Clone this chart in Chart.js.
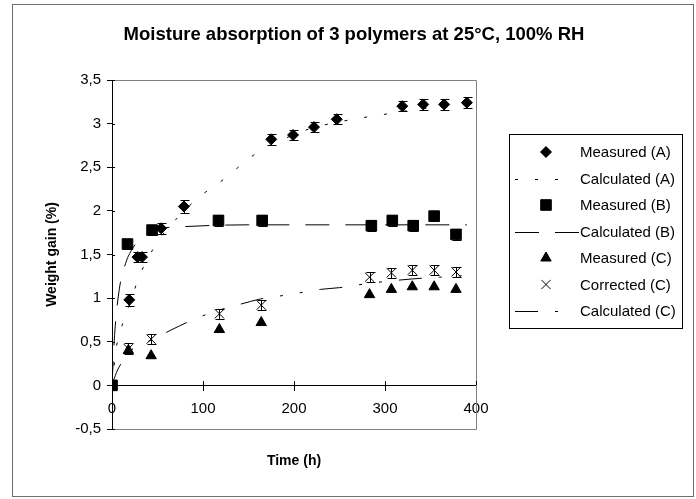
<!DOCTYPE html>
<html>
<head>
<meta charset="utf-8">
<script src="https://cdn.jsdelivr.net/npm/chart.js@4.4.0/dist/chart.umd.min.js"></script>
<style>
  body { margin: 0; background: #fff; }
  #chart { display: block; }
</style>
</head>
<body>
<canvas id="chart" width="696" height="499"></canvas>
<script>
// measured weight gain (%) against time (h)
const timeA = [0, 19, 28, 33, 54, 79, 175, 199, 222, 247, 319, 342, 365, 390];
const measuredA = [0, 0.98, 1.47, 1.47, 1.80, 2.05, 2.82, 2.87, 2.96, 3.05, 3.20, 3.22, 3.22, 3.24];
const errorA = [0, 0.07, 0.06, 0.06, 0.06, 0.07, 0.06, 0.06, 0.06, 0.06, 0.06, 0.06, 0.06, 0.06];

const timeB = [0, 17, 44, 117, 165, 285, 308, 331, 354, 378];
const measuredB = [0, 1.62, 1.78, 1.89, 1.89, 1.83, 1.89, 1.83, 1.94, 1.73];
const errorB = [0, 0.06, 0.06, 0.06, 0.06, 0.06, 0.06, 0.06, 0.06, 0.06];

const timeC = [0, 18, 43, 118, 164, 283, 307, 330, 354, 378];
const measuredC = [0, 0.40, 0.34, 0.64, 0.72, 1.04, 1.10, 1.13, 1.13, 1.10];
const correctedC = [0, 0.42, 0.53, 0.82, 0.92, 1.24, 1.29, 1.32, 1.32, 1.30];
const errorC = [0, 0.06, 0.06, 0.06, 0.06, 0.06, 0.06, 0.06, 0.06, 0.06];

// model curves
const calcTimeA = [0, 5, 10, 20, 30, 45, 55, 70, 97, 115, 132, 148, 166, 190, 220, 250, 270, 290, 313, 340, 370, 390];
const calculatedA = [0, 0.45, 0.65, 0.95, 1.25, 1.56, 1.72, 1.90, 2.17, 2.30, 2.44, 2.58, 2.71, 2.83, 2.95, 3.02, 3.06, 3.09, 3.13, 3.17, 3.20, 3.22];
const calcTimeB = [0, 3, 8, 15, 22, 30, 40, 55, 80, 150, 250, 390];
const calculatedB = [0, 0.60, 1.10, 1.40, 1.56, 1.67, 1.75, 1.80, 1.82, 1.84, 1.84, 1.84];
const calcTimeC = [0, 5, 10, 18, 30, 45, 66, 82, 103, 120, 141, 163, 188, 206, 229, 250, 276, 300, 330, 360, 390];
const calculatedC = [0, 0.15, 0.25, 0.38, 0.45, 0.53, 0.64, 0.72, 0.81, 0.87, 0.93, 0.99, 1.03, 1.06, 1.10, 1.12, 1.16, 1.19, 1.22, 1.24, 1.26];

const xTicks = [0, 100, 200, 300, 400];
const yMin = -0.5, yMax = 3.5, yStep = 0.5;

const toPoints = (xs, ys) => xs.map((x, i) => ({ x: x, y: ys[i] }));

const FONT = "'Liberation Sans', Arial, sans-serif";
Chart.defaults.font.family = FONT;
Chart.defaults.color = '#000';

// vertical error bars with small caps
const errorBars = {
  id: 'errorBars',
  afterDatasetsDraw(chart) {
    const ctx = chart.ctx;
    const yScale = chart.scales.y;
    ctx.save();
    ctx.strokeStyle = '#000';
    ctx.lineWidth = 1;
    chart.data.datasets.forEach((ds, i) => {
      if (!ds.errors) return;
      const meta = chart.getDatasetMeta(i);
      meta.data.forEach((pt, j) => {
        const e = ds.errors[j];
        if (!e) return;
        const v = ds.data[j].y;
        const x = Math.round(pt.x) + 0.5;
        const top = Math.round(yScale.getPixelForValue(v + e)) + 0.5;
        const bot = Math.round(yScale.getPixelForValue(v - e)) + 0.5;
        ctx.beginPath();
        ctx.moveTo(x, top); ctx.lineTo(x, bot);
        ctx.moveTo(x - 4, top); ctx.lineTo(x + 5, top);
        ctx.moveTo(x - 4, bot); ctx.lineTo(x + 5, bot);
        ctx.stroke();
      });
    });
    ctx.restore();
  }
};

// grey frame round the plot, outer border, ticks crossing the axes
const frames = {
  id: 'frames',
  beforeDraw(chart) {
    const ctx = chart.ctx;
    ctx.save();
    ctx.fillStyle = '#fff';
    ctx.fillRect(0, 0, chart.width, chart.height);
    ctx.strokeStyle = '#6e6e6e';
    ctx.lineWidth = 1;
    ctx.strokeRect(12.5, 4.5, 681, 492);
    ctx.restore();
  },
  beforeDatasetsDraw(chart) {
    const { ctx, chartArea: a, scales } = chart;
    ctx.save();
    ctx.strokeStyle = '#808080';
    ctx.lineWidth = 1;
    ctx.beginPath();
    ctx.moveTo(a.left, a.top + 0.5);
    ctx.lineTo(a.right + 0.5, a.top + 0.5);
    ctx.lineTo(a.right + 0.5, a.bottom + 0.5);
    ctx.lineTo(a.left, a.bottom + 0.5);
    ctx.stroke();
    ctx.strokeStyle = '#000';
    ctx.beginPath();
    const y0 = Math.round(scales.y.getPixelForValue(0));
    scales.x.ticks.forEach(t => {
      const x = Math.round(scales.x.getPixelForValue(t.value)) + 0.5;
      ctx.moveTo(x, y0 - 4);
      ctx.lineTo(x, y0);
    });
    scales.y.ticks.forEach(t => {
      const y = Math.round(scales.y.getPixelForValue(t.value)) + 0.5;
      ctx.moveTo(a.left, y);
      ctx.lineTo(a.left + 3, y);
    });
    ctx.stroke();
    ctx.restore();
  }
};

// boxed legend on the right
const boxLegend = {
  id: 'boxLegend',
  afterDraw(chart) {
    const ctx = chart.ctx;
    const box = { left: 509.5, top: 134.5, right: 682.5, bottom: 328.5 };
    const firstY = 152, step = 26.5, markX = 546, lineX1 = 515, textX = 580;
    ctx.save();
    ctx.strokeStyle = '#000';
    ctx.lineWidth = 1;
    ctx.strokeRect(box.left, box.top, box.right - box.left, box.bottom - box.top);
    ctx.font = '15px ' + FONT;
    ctx.textBaseline = 'middle';
    ctx.textAlign = 'left';
    chart.data.datasets.forEach((ds, i) => {
      const y = firstY + i * step;
      ctx.strokeStyle = '#000';
      ctx.fillStyle = '#000';
      if (ds.showLine) {
        ctx.save();
        ctx.setLineDash(ds.borderDash || []);
        ctx.beginPath();
        ctx.moveTo(lineX1, Math.round(y) + 0.5);
        ctx.lineTo(ds.legendEnd, Math.round(y) + 0.5);
        ctx.stroke();
        ctx.restore();
      } else {
        Chart.helpers.drawPoint(ctx, {
          pointStyle: ds.pointStyle,
          radius: ds.pointRadius,
          borderWidth: 1,
          rotation: 0
        }, markX, y);
      }
      ctx.fillStyle = '#000';
      ctx.fillText(ds.label, textX, y + 1);
    });
    ctx.restore();
  }
};

const marker = (label, xs, ys, style, radius, errors) => ({
  label: label,
  data: toPoints(xs, ys),
  pointStyle: style,
  pointRadius: radius,
  pointHoverRadius: radius,
  pointBorderWidth: 1,
  backgroundColor: '#000',
  borderColor: '#000',
  errors: errors,
  showLine: false
});

const curve = (label, xs, ys, dash, legendEnd) => ({
  label: label,
  data: toPoints(xs, ys),
  showLine: true,
  pointRadius: 0,
  borderColor: '#000',
  borderWidth: 1,
  borderDash: dash,
  cubicInterpolationMode: 'monotone',
  legendEnd: legendEnd
});

new Chart(document.getElementById('chart'), {
  type: 'scatter',
  data: {
    datasets: [
      marker('Measured (A)', timeA, measuredA, 'rectRot', 5.5, errorA),
      curve('Calculated (A)', calcTimeA, calculatedA, [3, 17], 560),
      marker('Measured (B)', timeB, measuredB, 'rect', 7.5, errorB),
      curve('Calculated (B)', calcTimeB, calculatedB, [24, 16], 580),
      marker('Measured (C)', timeC, measuredC, 'triangle', 6, null),
      marker('Corrected (C)', timeC, correctedC, 'crossRot', 6.5, errorC),
      curve('Calculated (C)', calcTimeC, calculatedC, [23, 17, 3, 17, 3, 17], 562)
    ]
  },
  plugins: [frames, errorBars, boxLegend],
  options: {
    responsive: false,
    animation: false,
    devicePixelRatio: 1,
    layout: { padding: { left: 12, right: 0, top: 0, bottom: 10 } },
    plugins: {
      legend: { display: false },
      tooltip: { enabled: false },
      title: {
        display: true,
        text: 'Moisture absorption of 3 polymers at 25°C, 100% RH',
        font: { size: 18.5, weight: 'bold' },
        color: '#000',
        padding: { top: 23.9, bottom: 33.9 }
      }
    },
    scales: {
      x: {
        type: 'linear',
        position: { y: 0 },
        min: xTicks[0],
        max: xTicks[xTicks.length - 1],
        afterBuildTicks: s => { s.ticks = xTicks.map(v => ({ value: v })); },
        ticks: { font: { size: 15 }, color: '#000', padding: 9 },
        grid: { drawOnChartArea: false, tickLength: 5, color: '#000' },
        border: { color: '#000' }
      },
      x2: {
        type: 'linear',
        position: 'bottom',
        display: true,
        ticks: { display: false },
        grid: { display: false, drawTicks: false },
        border: { display: false },
        title: {
          display: true,
          text: 'Time (h)',
          font: { size: 14, weight: 'bold' },
          color: '#000',
          padding: { top: 23.6, bottom: 19.6 }
        }
      },
      y: {
        position: 'left',
        min: yMin,
        max: yMax,
        afterFit: s => { s.width = 100; },
        ticks: {
          stepSize: yStep,
          font: { size: 15 },
          color: '#000',
          padding: 6,
          callback: v => String(v).replace('.', ',')
        },
        grid: { drawOnChartArea: false, tickLength: 5, color: '#000' },
        border: { color: '#000' },
        title: {
          display: true,
          text: 'Weight gain (%)',
          font: { size: 14, weight: 'bold' },
          color: '#000',
          padding: { top: 31.6, bottom: 0 }
        }
      },
      y2: {
        position: 'right',
        display: true,
        afterFit: s => { s.width = 220; },
        ticks: { display: false },
        grid: { display: false, drawTicks: false },
        border: { display: false }
      }
    }
  }
});
</script>
</body>
</html>
